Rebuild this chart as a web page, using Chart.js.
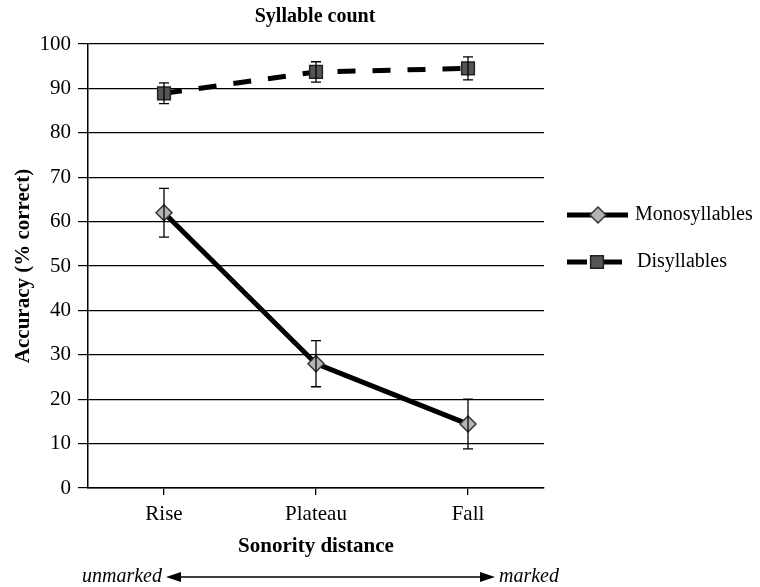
<!DOCTYPE html>
<html><head><meta charset="utf-8">
<script src="https://cdn.jsdelivr.net/npm/chart.js@4/dist/chart.umd.min.js"></script>
<style>html,body{margin:0;padding:0;background:#fff}</style>
</head><body>
<canvas id="c" width="760" height="587"></canvas>
<script>
const categories = ['Rise', 'Plateau', 'Fall'];
const seriesNames = ['Monosyllables', 'Disyllables'];
const monoValues = [62, 28, 14.4];
const monoErrors = [5.5, 5.2, 5.6];
const disValues = [88.9, 93.7, 94.5];
const disErrors = [2.35, 2.3, 2.6];
const yTickValues = [0, 10, 20, 30, 40, 50, 60, 70, 80, 90, 100];
const chartTitle = 'Syllable count';
const xTitle = 'Sonority distance';
const yTitle = 'Accuracy (% correct)';
const arrowLeftLabel = 'unmarked';
const arrowRightLabel = 'marked';

const SERIF = '"Liberation Serif", "Times New Roman", serif';

const errorBars = {
  id: 'errorBars',
  afterDatasetsDraw(chart) {
    const ctx = chart.ctx, y = chart.scales.y;
    const errs = [monoErrors, disErrors];
    chart.data.datasets.forEach((ds, i) => {
      const meta = chart.getDatasetMeta(i);
      meta.data.forEach((pt, j) => {
        const v = ds.data[j], e = errs[i][j];
        const yt = y.getPixelForValue(v + e), yb = y.getPixelForValue(v - e);
        ctx.save();
        ctx.strokeStyle = '#000';
        ctx.lineWidth = 1.3;
        ctx.beginPath();
        ctx.moveTo(pt.x, yt); ctx.lineTo(pt.x, yb);
        ctx.moveTo(pt.x - 5, yt); ctx.lineTo(pt.x + 5, yt);
        ctx.moveTo(pt.x - 5, yb); ctx.lineTo(pt.x + 5, yb);
        ctx.stroke();
        ctx.restore();
      });
    });
  }
};

const decorations = {
  id: 'decorations',
  afterDraw(chart) {
    const ctx = chart.ctx, a = chart.chartArea;
    ctx.save();
    ctx.fillStyle = '#000';
    ctx.textAlign = 'center';
    ctx.textBaseline = 'middle';
    const cx = (a.left + a.right) / 2;
    ctx.font = 'bold 20px ' + SERIF;
    ctx.fillText(chartTitle, cx - 1, 17);
    ctx.font = 'bold 21px ' + SERIF;
    ctx.fillText(xTitle, cx, 547);
    ctx.save();
    ctx.translate(24, 266);
    ctx.rotate(-Math.PI / 2);
    ctx.fillText(yTitle, 0, 0);
    ctx.restore();

    // marked / unmarked arrow
    const ay = 577;
    ctx.font = 'italic 20px ' + SERIF;
    ctx.textAlign = 'right';
    ctx.fillText(arrowLeftLabel, 162, ay);
    ctx.textAlign = 'left';
    ctx.fillText(arrowRightLabel, 499, ay);
    ctx.strokeStyle = '#000';
    ctx.lineWidth = 1.5;
    ctx.beginPath(); ctx.moveTo(175, ay); ctx.lineTo(484, ay); ctx.stroke();
    ctx.beginPath(); ctx.moveTo(166, ay); ctx.lineTo(181, ay - 5); ctx.lineTo(181, ay + 5); ctx.closePath(); ctx.fill();
    ctx.beginPath(); ctx.moveTo(495, ay); ctx.lineTo(480, ay - 5); ctx.lineTo(480, ay + 5); ctx.closePath(); ctx.fill();

    // legend
    const ds = chart.data.datasets;
    const items = [{y: 215, x0: 567, x1: 628, mx: 598, tx: 635}, {y: 262, x0: 567, x1: 622, mx: 597, tx: 637}];
    items.forEach((it, i) => {
      const d = ds[i];
      ctx.strokeStyle = d.borderColor;
      ctx.lineWidth = d.borderWidth;
      ctx.beginPath();
      if (i === 0) {
        ctx.moveTo(it.x0, it.y); ctx.lineTo(it.x1, it.y);
      } else {
        ctx.moveTo(it.x0, it.y); ctx.lineTo(it.x0 + 20, it.y);
        ctx.moveTo(it.x1 - 18, it.y); ctx.lineTo(it.x1, it.y);
      }
      ctx.stroke();
      ctx.fillStyle = d.pointBackgroundColor;
      ctx.strokeStyle = d.pointBorderColor;
      ctx.lineWidth = d.pointBorderWidth;
      Chart.helpers.drawPoint(ctx, {pointStyle: d.pointStyle, radius: d.pointRadius, rotation: 0, borderWidth: d.pointBorderWidth}, it.mx, it.y);
      ctx.fillStyle = '#000';
      ctx.font = '20px ' + SERIF;
      ctx.textAlign = 'left';
      ctx.fillText(seriesNames[i], it.tx, it.y);
    });
    ctx.restore();
  }
};

new Chart(document.getElementById('c'), {
  type: 'line',
  data: {
    labels: categories,
    datasets: [
      {
        label: seriesNames[0], data: monoValues,
        borderColor: '#000', borderWidth: 5, fill: false, tension: 0,
        pointStyle: 'rectRot', pointRadius: 8, pointBackgroundColor: '#b4b4b4',
        pointBorderColor: '#333', pointBorderWidth: 1.5
      },
      {
        label: seriesNames[1], data: disValues,
        borderColor: '#000', borderWidth: 5, borderDash: [18, 17], fill: false, tension: 0,
        pointStyle: 'rect', pointRadius: 9, pointBackgroundColor: '#555',
        pointBorderColor: '#222', pointBorderWidth: 1.5
      }
    ]
  },
  options: {
    responsive: false,
    devicePixelRatio: 1,
    animation: false,
    layout: {padding: {left: 0, right: 216, top: 44, bottom: 0}},
    plugins: {legend: {display: false}, title: {display: false}, tooltip: {enabled: false}},
    scales: {
      x: {
        offset: true,
        grid: {display: true, drawOnChartArea: false, drawTicks: true, tickLength: 7, color: '#000', lineWidth: 1.3},
        border: {display: true, color: '#000', width: 1.5},
        ticks: {color: '#000', font: {family: SERIF, size: 21}, padding: 7},
        afterFit(s) { s.height = 99; }
      },
      y: {
        min: 0, max: 100,
        afterBuildTicks(s) { s.ticks = yTickValues.map(v => ({value: v})); },
        grid: {color: '#000', lineWidth: 1.2, tickLength: 10},
        border: {display: true, color: '#000', width: 1.5},
        ticks: {color: '#000', font: {family: SERIF, size: 21}, padding: 7},
        afterFit(s) { s.width = 88; }
      }
    }
  },
  plugins: [errorBars, decorations]
});
</script>
</body></html>
